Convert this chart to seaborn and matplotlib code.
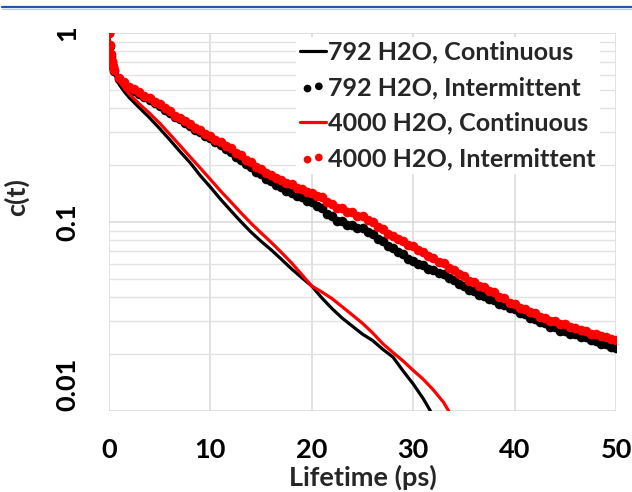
import numpy as np
import pandas as pd
import matplotlib
matplotlib.use("Agg")
import matplotlib.pyplot as plt
from matplotlib.lines import Line2D
import seaborn as sns

# ---- data -------------------------------------------------------------
# continuous-definition survival function, 792 waters
cont_792_t = [0, 0.1, 0.25, 0.5, 1, 1.5, 2, 3, 4, 5, 6, 7, 8, 9, 10, 11, 12, 13,
              14, 15, 16, 17, 18, 19, 20, 21, 22, 23, 24, 25, 26, 27, 28, 29,
              30, 31, 31.7]
cont_792_c = [1.0, 0.80, 0.69, 0.615, 0.535, 0.49, 0.455, 0.402, 0.356, 0.312,
              0.272, 0.236, 0.206, 0.176, 0.153, 0.132, 0.115, 0.1005, 0.0885,
              0.0790, 0.0712, 0.0635, 0.0565, 0.0508, 0.0458, 0.0396, 0.0348,
              0.0310, 0.0281, 0.0255, 0.0236, 0.0212, 0.0193, 0.0163, 0.0139,
              0.0116, 0.0100]

# continuous-definition survival function, 4000 waters
cont_4000_t = [0, 0.1, 0.25, 0.5, 1, 1.5, 2, 3, 4, 5, 6, 7, 8, 9, 10, 11, 12, 13,
               14, 15, 16, 17, 18, 19, 20, 21, 22, 23, 24, 25, 26, 27, 28, 29,
               30, 31, 32, 33, 33.5]
cont_4000_c = [1.0, 0.81, 0.71, 0.635, 0.555, 0.51, 0.475, 0.421, 0.376, 0.333,
               0.291, 0.254, 0.221, 0.193, 0.168, 0.146, 0.128, 0.112, 0.0985,
               0.0875, 0.0780, 0.0690, 0.0608, 0.0528, 0.0458, 0.0426, 0.0393,
               0.0356, 0.0322, 0.0291, 0.0259, 0.0227, 0.0204, 0.0184, 0.0164,
               0.0147, 0.0129, 0.0111, 0.0100]

# intermittent-definition sampling times (ps)
int_t = [0, 0.1, 0.2, 0.3, 0.4] + list(np.arange(0.5, 50.01, 0.5))

int_792_c = [
    1.0, 0.85, 0.76, 0.70, 0.66,
    0.630, 0.570, 0.540, 0.512, 0.493, 0.478, 0.457, 0.444, 0.426, 0.412,
    0.391, 0.378, 0.359, 0.349, 0.334, 0.324, 0.308, 0.300, 0.285, 0.277,
    0.264, 0.256, 0.242, 0.235, 0.221, 0.214, 0.202, 0.196, 0.185, 0.180,
    0.169, 0.164, 0.157, 0.153, 0.146, 0.143, 0.137, 0.135, 0.129, 0.127,
    0.121, 0.118, 0.110, 0.107, 0.101, 0.101, 0.0970, 0.0968, 0.0935, 0.0930,
    0.0885, 0.0868, 0.0815, 0.0795, 0.0750, 0.0728, 0.0690, 0.0678, 0.0636, 0.0622,
    0.0598, 0.0590, 0.0566, 0.0560, 0.0536, 0.0530, 0.0503, 0.0494, 0.0470, 0.0460,
    0.0437, 0.0431, 0.0412, 0.0407, 0.0390, 0.0386, 0.0369, 0.0365, 0.0349, 0.0345,
    0.0331, 0.0326, 0.0311, 0.0308, 0.0295, 0.0291, 0.0279, 0.0277, 0.0266, 0.0264,
    0.0256, 0.0254, 0.0246, 0.0245, 0.0237, 0.0235, 0.0227, 0.0226, 0.0218, 0.0216,
]

int_4000_c = [
    1.0, 0.86, 0.77, 0.71, 0.67,
    0.640, 0.580, 0.552, 0.521, 0.503, 0.488, 0.466, 0.453, 0.434, 0.421,
    0.399, 0.385, 0.366, 0.356, 0.341, 0.331, 0.316, 0.307, 0.292, 0.285,
    0.273, 0.266, 0.252, 0.245, 0.232, 0.225, 0.213, 0.207, 0.196, 0.191,
    0.181, 0.177, 0.170, 0.167, 0.160, 0.158, 0.152, 0.150, 0.144, 0.143,
    0.137, 0.135, 0.127, 0.124, 0.118, 0.118, 0.113, 0.113, 0.108, 0.108,
    0.102, 0.0995, 0.094, 0.0915, 0.0865, 0.0848, 0.0808, 0.0795, 0.0758, 0.0745,
    0.0708, 0.0695, 0.0662, 0.0648, 0.0615, 0.0605, 0.0572, 0.0560, 0.0528, 0.0518,
    0.0490, 0.0482, 0.0460, 0.0452, 0.0431, 0.0424, 0.0402, 0.0395, 0.0374, 0.0367,
    0.0352, 0.0347, 0.0333, 0.0329, 0.0316, 0.0312, 0.0301, 0.0299, 0.0289, 0.0287,
    0.0277, 0.0276, 0.0267, 0.0266, 0.0257, 0.0257, 0.0248, 0.0247, 0.0239, 0.0237,
]

labels = ["792 H2O, Continuous", "792 H2O, Intermittent",
          "4000 H2O, Continuous", "4000 H2O, Intermittent"]
x_ticks = [0, 10, 20, 30, 40, 50]
y_ticks = [0.01, 0.1, 1]
y_tick_labels = ["0.01", "0.1", "1"]

# ---- style ------------------------------------------------------------
sns.set_theme(style="white")
plt.rcParams["font.family"] = ["Lato", "DejaVu Sans"]
grid_col = "#d9d9d9"

fig = plt.figure(figsize=(6.32, 4.92), dpi=100)
ax = fig.add_axes([109 / 632, 1 - 411 / 492, 507 / 632, 378 / 492])

# ---- series -------------------------------------------------------------
sns.lineplot(x=cont_792_t, y=cont_792_c, ax=ax, color="black", lw=2.3,
             label=labels[0], zorder=3)
sns.scatterplot(x=int_t, y=int_792_c, ax=ax, color="black", s=48,
                linewidth=0, label=labels[1], zorder=3)
sns.lineplot(x=cont_4000_t, y=cont_4000_c, ax=ax, color="#ff0000", lw=2.3,
             label=labels[2], zorder=4)
sns.scatterplot(x=int_t, y=int_4000_c, ax=ax, color="#ff0000", s=48,
                linewidth=0, label=labels[3], zorder=4)

# ---- axes ---------------------------------------------------------------
ax.set_yscale("log")
ax.set_xlim(0, 50)
ax.set_ylim(0.01, 1)
ax.set_xticks(x_ticks)
ax.set_xticklabels([str(v) for v in x_ticks], fontsize=19.5, fontweight="bold")
ax.set_yticks(y_ticks)
ax.set_yticklabels(y_tick_labels, fontsize=19.5, fontweight="bold",
                   rotation=90, va="center")
ax.get_yticklabels()[0].set_va("bottom")
ax.yaxis.set_minor_locator(matplotlib.ticker.LogLocator(base=10, subs=np.arange(2, 10)))
ax.yaxis.set_minor_formatter(matplotlib.ticker.NullFormatter())

ax.tick_params(axis="both", which="major", direction="out", length=6.5,
               width=1, color=grid_col, labelcolor="black")
ax.tick_params(axis="x", which="major", pad=13)
ax.tick_params(axis="y", which="major", pad=15)
ax.tick_params(axis="y", which="minor", length=0)
ax.grid(True, which="major", color=grid_col, lw=1.1)
ax.grid(True, which="minor", axis="y", color="#e3e3e3", lw=1.0)
for sp in ax.spines.values():
    sp.set_visible(False)

ax.set_xlabel("Lifetime (ps)", fontsize=19.5, fontweight="bold", labelpad=1.5)
ax.set_ylabel("c(t)", fontsize=19.5, fontweight="bold")
ax.yaxis.set_label_coords(-0.158, 0.565)

leg = ax.legend(loc="upper right", bbox_to_anchor=(0.968, 0.99),
                prop={"size": 18.1, "weight": "bold"},
                frameon=True, framealpha=1, edgecolor="white", fancybox=False,
                handlelength=1.05, handletextpad=0.08, labelspacing=0.5,
                borderpad=0.15, scatterpoints=2, borderaxespad=0,
                markerscale=0.8)
leg.get_frame().set_linewidth(0)

# header rule across the top of the figure
fig.add_artist(Line2D([2 / 632, 1], [1 - 7.3 / 492] * 2, color="#1f5aa6", lw=1.6))
fig.add_artist(Line2D([2 / 632, 1], [1 - 9.3 / 492] * 2, color="#b3cce9", lw=0.8))

fig.savefig("out.png", dpi=100)
